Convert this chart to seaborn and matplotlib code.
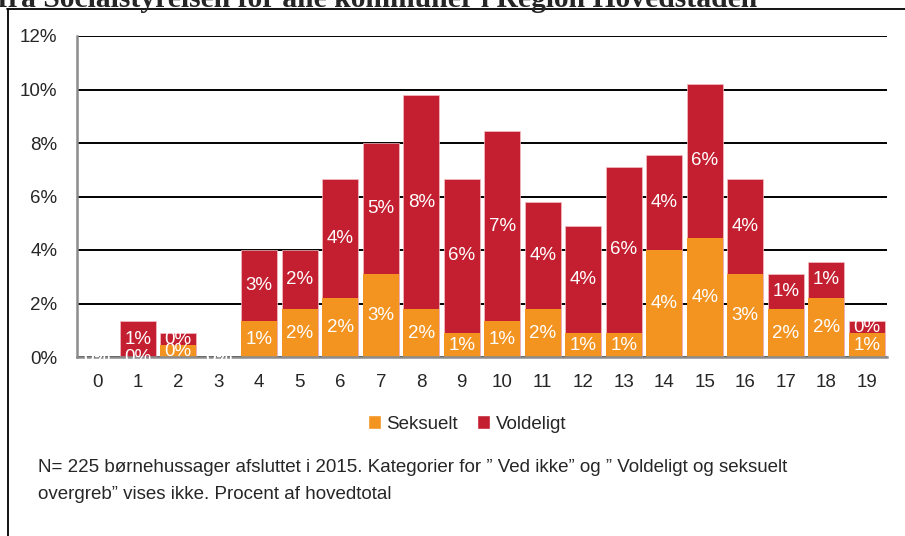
import numpy as np
import pandas as pd
import matplotlib
matplotlib.use('Agg')
import matplotlib.pyplot as plt
from matplotlib.lines import Line2D
from matplotlib.patches import Patch
import seaborn as sns

# --- data (percent of main total) ---
categories = [str(i) for i in range(20)]
seksuelt = [0.00, 0.00, 0.44, 0.00, 1.33, 1.78, 2.22, 3.11, 1.78, 0.89,
            1.33, 1.78, 0.89, 0.89, 4.00, 4.44, 3.11, 1.78, 2.22, 0.89]
voldeligt = [0.00, 1.33, 0.44, 0.00, 2.67, 2.22, 4.44, 4.89, 8.00, 5.78,
             7.11, 4.00, 4.00, 6.22, 3.56, 5.78, 3.56, 1.33, 1.33, 0.44]
y_ticks = [0, 2, 4, 6, 8, 10, 12]
title_text = 'fra Socialstyrelsen for alle kommuner i Region Hovedstaden'
note_text = ('N= 225 børnehussager afsluttet i 2015. Kategorier for \u201d Ved ikke\u201d og \u201d Voldeligt og seksuelt\n'
             'overgreb\u201d vises ikke. Procent af hovedtotal')

ORANGE = '#F39320'
RED = '#C41F30'

sns.set_style('white')
plt.rcParams['font.family'] = ['Liberation Sans', 'DejaVu Sans']

df = pd.DataFrame({'kategori': categories, 'Seksuelt': seksuelt, 'Voldeligt': voldeligt})
df['total'] = df['Seksuelt'] + df['Voldeligt']

fig = plt.figure(figsize=(9.05, 5.36), dpi=100)
ax = fig.add_axes([77/905, 1 - 357/536, 810/905, 321/536])

# stacked bars: total (red) first, then seksuelt (orange) on top of it
sns.barplot(data=df, x='kategori', y='total', color=RED, width=0.89,
            saturation=1, edgecolor='#F2C0C4', linewidth=0.5, ax=ax, zorder=2)
sns.barplot(data=df, x='kategori', y='Seksuelt', color=ORANGE, width=0.89,
            saturation=1, linewidth=0, ax=ax, zorder=3)

# segment labels
for i, (s, v) in enumerate(zip(df['Seksuelt'], df['Voldeligt'])):
    ax.text(i, s / 2, f'{s:.0f}%', ha='center', va='center', color='white',
            fontsize=13.5, zorder=5)
    ax.text(i, s + v / 2, f'{v:.0f}%', ha='center', va='center', color='white',
            fontsize=13.5, zorder=5)

ax.set_xlim(-0.5, 19.5)
ax.set_ylim(0, 12)
ax.set_yticks(y_ticks)
ax.set_yticklabels([f'{t}%' for t in y_ticks])
ax.yaxis.grid(True, color='black', linewidth=1.4)
ax.set_axisbelow(True)
ax.tick_params(axis='y', length=0, pad=14, labelsize=13.5)
ax.tick_params(axis='x', length=0, pad=12, labelsize=13.5)
ax.set_xlabel('')
ax.set_ylabel('')
for side in ['top', 'right']:
    ax.spines[side].set_visible(False)
for side in ['left', 'bottom']:
    ax.spines[side].set_color('#8C8C8C')
    ax.spines[side].set_linewidth(1.8)
    ax.spines[side].set_zorder(4)

handles = [Patch(facecolor=ORANGE, label='Seksuelt'),
           Patch(facecolor=RED, label='Voldeligt')]
fig.legend(handles=handles, loc='center', bbox_to_anchor=(467/905, 1 - 424/536),
           ncol=2, frameon=False, fontsize=13.5, handlelength=0.7, handleheight=0.7,
           handletextpad=0.3, columnspacing=1.0)

fig.text(38/905, 1 - 481/536, note_text, ha='left', va='center', fontsize=13.5,
         linespacing=1.72)

# truncated title above the frame
fig.text(-0.002, 1 - 7/536, title_text, ha='left', va='baseline', fontsize=21.3,
         fontweight='bold', family=['Liberation Serif', 'DejaVu Serif'])

# frame around the chart (top and left edges visible)
fig.add_artist(Line2D([7/905, 1.0], [1 - 8.5/536, 1 - 8.5/536], color='black',
                      linewidth=1.3, transform=fig.transFigure))
fig.add_artist(Line2D([7.5/905, 7.5/905], [0, 1 - 8.5/536], color='black',
                      linewidth=1.3, transform=fig.transFigure))

fig.savefig('out.png', dpi=100)
